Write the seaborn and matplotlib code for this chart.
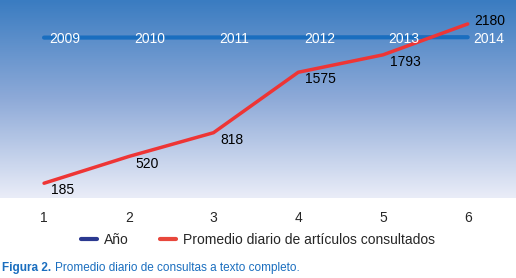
import numpy as np
import pandas as pd
import matplotlib
matplotlib.use('Agg')
import matplotlib.pyplot as plt
from matplotlib.colors import LinearSegmentedColormap
from matplotlib.lines import Line2D
import seaborn as sns

# datos
puntos = [1, 2, 3, 4, 5, 6]
anios = [2009, 2010, 2011, 2012, 2013, 2014]
promedio = [185, 520, 818, 1575, 1793, 2180]

sns.set_style('white')
plt.rcParams['font.family'] = ['Liberation Sans', 'DejaVu Sans']

df = pd.DataFrame({'x': puntos, 'anio': anios, 'prom': promedio})

fig = plt.figure(figsize=(5.16, 2.78), dpi=100)
ax = fig.add_axes([0, 80 / 278, 1, 198 / 278])

# fondo degradado
cmap = LinearSegmentedColormap.from_list('fondo', ['#3a7cc1', '#8eaad8', '#eaedf8'])
grad = np.linspace(0, 1, 256).reshape(-1, 1)
ax.imshow(grad, cmap=cmap, aspect='auto', extent=[0.48, 6.57, 0, 2480],
          origin='upper', zorder=0)

sns.lineplot(data=df, x='x', y='anio', ax=ax, color='#1a6ebf', lw=3, zorder=2)
sns.lineplot(data=df, x='x', y='prom', ax=ax, color='#ee3535', lw=2.5, zorder=3)

for x, a in zip(puntos, anios):
    ax.annotate(str(a), (x, a), xytext=(4, 0), textcoords='offset points',
                ha='left', va='center_baseline', color='white', fontsize=10,
                zorder=4)

for i, (x, p) in enumerate(zip(puntos, promedio)):
    dy = 3 if i == len(promedio) - 1 else -4
    ax.annotate(str(p), (x, p), xytext=(5, dy), textcoords='offset points',
                ha='left', va='center_baseline', color='black', fontsize=10,
                zorder=4)

ax.set_xlim(0.48, 6.57)
ax.set_ylim(0, 2480)
ax.set_xticks(puntos)
ax.set_xticklabels([str(p) for p in puntos])
ax.set_yticks([])
ax.tick_params(axis='x', length=0, pad=9, labelsize=10)
ax.set_xlabel('')
ax.set_ylabel('')
for s in ax.spines.values():
    s.set_visible(False)

handles = [Line2D([], [], color='#2b3990', lw=3),
           Line2D([], [], color='#e8473c', lw=3)]
fig.legend(handles, ['Año', 'Promedio diario de artículos consultados'],
           loc='center', bbox_to_anchor=(0.5, 0.137), ncol=2, frameon=False,
           fontsize=10, handlelength=1.1, columnspacing=2.3, handletextpad=0.5)

# pie de figura
t1 = fig.text(0.004, 0.036, 'Figura 2.', color='#1a6ebf', fontsize=8.5,
              fontweight='bold', va='center', ha='left')
fig.canvas.draw()
bb = t1.get_window_extent()
x2 = (bb.x1 + 4) / fig.bbox.width
fig.text(x2, 0.036, 'Promedio diario de consultas a texto completo.',
         color='#1a6ebf', fontsize=8.5, va='center', ha='left')

fig.savefig('out.png', dpi=100)
